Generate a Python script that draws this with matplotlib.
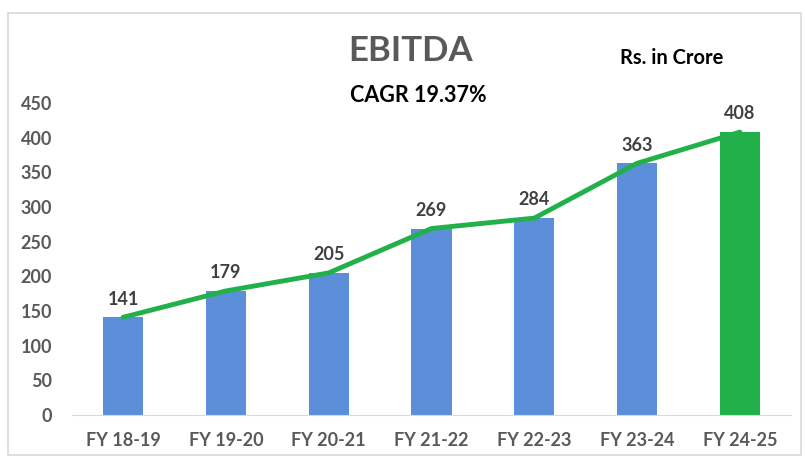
import numpy as np
import matplotlib.pyplot as plt
from matplotlib.patches import Rectangle

plt.rcParams["font.family"] = ["Lato", "DejaVu Sans"]

years = ["FY 18-19", "FY 19-20", "FY 20-21", "FY 21-22", "FY 22-23", "FY 23-24", "FY 24-25"]
ebitda = [141, 179, 205, 269, 284, 363, 408]
bar_colors = ["#5B8FD9"] * 6 + ["#22B04B"]

fig = plt.figure(figsize=(8.05, 4.68), dpi=100)
ax = fig.add_axes([0.089, 0.113, 0.894, 0.667])

x = np.arange(len(years))
ax.bar(x, ebitda, width=0.39, color=bar_colors, zorder=2)
ax.plot(x, ebitda, color="#22B04B", lw=3.5, zorder=3, solid_capstyle="round")

for xi, v in zip(x, ebitda):
    ax.text(xi, v + 14, str(v), ha="center", va="bottom", fontsize=13,
            fontweight="bold", color="#404040")

ax.set_xlim(-0.5, len(years) - 0.5)
ax.set_ylim(0, 450)
ax.set_yticks(range(0, 451, 50))
ax.set_xticks(x)
ax.set_xticklabels(years)
ax.tick_params(length=0, labelsize=13, labelcolor="#595959", pad=12)
ax.tick_params(axis="y", pad=14)
for lbl in ax.get_xticklabels() + ax.get_yticklabels():
    lbl.set_fontweight("bold")
for s in ["top", "right", "left"]:
    ax.spines[s].set_visible(False)
ax.spines["bottom"].set_color("#D9D9D9")

fig.text(0.51, 0.89, "EBITDA", ha="center", va="center", fontsize=25,
         fontweight="bold", color="#595959")
fig.text(0.52, 0.795, "CAGR 19.37%", ha="center", va="center", fontsize=15.5,
         fontweight="bold", color="black")
fig.text(0.835, 0.876, "Rs. in Crore", ha="center", va="center", fontsize=14.5,
         fontweight="bold", color="black")

fig.patches.append(Rectangle((0.01, 0.028), 0.985, 0.945, transform=fig.transFigure,
                             fill=False, edgecolor="#D9D9D9", lw=1.2))

fig.savefig("out.png", dpi=100)
